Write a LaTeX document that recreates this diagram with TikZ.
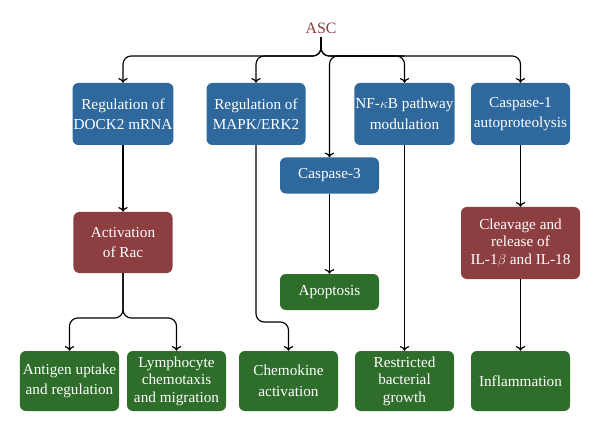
\documentclass[tikz,border=0pt]{standalone}
\usepackage{fontspec}
\setmainfont{Liberation Serif}
\usepackage{amsmath}
\usetikzlibrary{arrows.meta}

\definecolor{ascred}{RGB}{140,58,60}
\definecolor{boxblue}{RGB}{46,104,156}
\definecolor{boxred}{RGB}{140,62,64}
\definecolor{boxgreen}{RGB}{46,110,42}

\tikzset{
  box/.style={rounded corners=5pt, text=white, align=center, inner sep=1pt,
    minimum width=2.97cm, font=\fontsize{13}{17.5}\selectfont},
  bluebox/.style={box, fill=boxblue, minimum height=1.86cm},
  redbox/.style={box, fill=boxred},
  greenbox/.style={box, fill=boxgreen, minimum height=1.8cm},
  small/.style={minimum height=1.08cm},
  tight/.style={font=\fontsize{13}{15}\selectfont},
  link/.style={draw=black, line width=1pt, rounded corners=7pt,
    -{To[length=4pt,width=8pt]}}
}

\begin{document}
\begin{tikzpicture}[x=0.03cm, y=-0.03cm]
    	\useasboundingbox (0,0) rectangle (600,432);

    	\node[text=ascred, font=\fontsize{13.5}{15}\selectfont] (asc) at (321,28) {ASC};
    	\coordinate (tip) at (321,41);
    	\coordinate (bar) at (321,56);

    	% top row
    	\node[bluebox] (dock) at (123,114) {Regulation of\\DOCK2 mRNA};
    	\node[bluebox] (mapk) at (256,114) {Regulation of\\MAPK/ERK2};
    	\node[bluebox] (nfkb) at (404.5,114) {NF-$\kappa$B pathway\\modulation};
    	\node[bluebox] (casp1) at (520.5,114) {Caspase-1\\autoproteolysis};
    	\node[bluebox, small] (casp3) at (329.5,175.5) {Caspase-3};

    	% middle
    	\node[redbox, minimum height=1.83cm] (rac) at (123,242.5) {Activation\\of Rac};
    	\node[redbox, tight, minimum width=3.57cm, minimum height=2.16cm] (cleav) at (520.5,243) {Cleavage and\\release of\\IL-1$\beta$ and IL-18};
    	\node[greenbox, small] (apop) at (329.5,292) {Apoptosis};

    	% bottom row
    	\node[greenbox] (antigen) at (69.5,381) {Antigen uptake\\and regulation};
    	\node[greenbox, tight] (lymph) at (176.5,381) {Lymphocyte\\chemotaxis\\and migration};
    	\node[greenbox] (chemo) at (288.5,381) {Chemokine\\activation};
    	\node[greenbox, tight] (restr) at (404.5,381) {Restricted\\bacterial\\growth};
    	\node[greenbox] (infl) at (520.5,381) {Inflammation};

    	\coordinate (split) at (123,318);
    	\coordinate (bend) at (256,322);

    	\draw[line width=1pt] (asc.south) -- (tip);
    	\draw[link] (tip) |- (dock.north |- bar) -- (dock.north);
    	\draw[link] (tip) |- (mapk.north |- bar) -- (mapk.north);
    	\draw[link] (tip) |- (nfkb.north |- bar) -- (nfkb.north);
    	\draw[link] (tip) |- (casp1.north |- bar) -- (casp1.north);
    	\draw[link] (nfkb.north |- bar) -| (casp3.north);

    	\draw[link] (dock) -- (rac);
    	\draw[link] (rac.south) |- (antigen.north |- split) -- (antigen.north);
    	\draw[link] (rac.south) |- (lymph.north |- split) -- (lymph.north);
    	\draw[link] (mapk.south) |- (chemo.north |- bend) -- (chemo.north);
    	\draw[link] (casp3) -- (apop);
    	\draw[link] (nfkb) -- (restr);
    	\draw[link] (casp1) -- (cleav);
    	\draw[link] (cleav) -- (infl);

    	\end{tikzpicture}
\end{document}
